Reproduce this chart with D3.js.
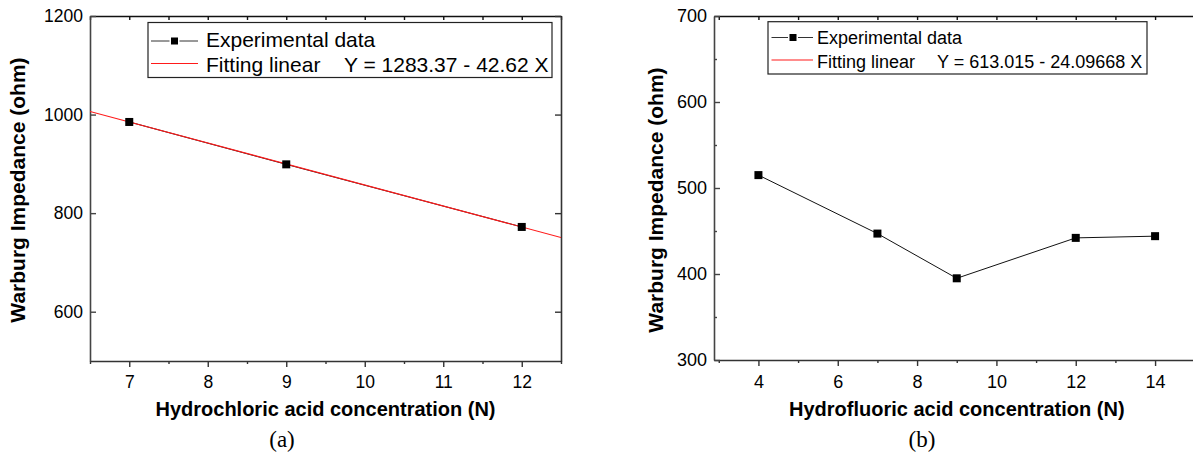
<!DOCTYPE html>
<html>
<head>
<meta charset="utf-8">
<script src="https://cdn.jsdelivr.net/npm/d3@7/dist/d3.min.js"></script>
<style>
  html, body { margin: 0; padding: 0; background: #fff; }
  svg { display: block; }
  text { font-family: "Liberation Sans", Arial, sans-serif; fill: #000; }
</style>
</head>
<body>
<svg id="chart" width="1193" height="461"></svg>
<script>
// ---- Panel (a) data ----
const hclConc = [7, 9, 12];
const hclImpedance = [985, 899, 772];
const hclFitIntercept = 1283.37;
const hclFitSlope = -42.62;
const hclXTicks = [7, 8, 9, 10, 11, 12];
const hclXMinor = [6.5, 7.5, 8.5, 9.5, 10.5, 11.5, 12.5];
const hclYTicks = [600, 800, 1000, 1200];
const hclXDomain = [6.5, 12.5];
const hclYDomain = [500, 1200];

// ---- Panel (b) data ----
const hfConc = [4, 7, 9, 12, 14];
const hfImpedance = [515, 447, 395, 442, 444];
const hfXTicks = [4, 6, 8, 10, 12, 14];
const hfXMinor = [3, 5, 7, 9, 11, 13, 15];
const hfYTicks = [300, 400, 500, 600, 700];
const hfYMinor = [350, 450, 550, 650];
const hfXDomain = [2.88, 15.12];
const hfYDomain = [300, 700];

const svg = d3.select("#chart");
svg.append("rect").attr("width", 1193).attr("height", 461).attr("fill", "#fff");

function styleAxis(g, color, fs) {
  g.selectAll("path.domain").attr("stroke", color).attr("stroke-width", 1.6);
  g.selectAll(".tick line").attr("stroke", color).attr("stroke-width", 1.4);
  g.selectAll(".tick text").attr("font-size", fs || 17.5).attr("font-family", '"Liberation Sans", Arial, sans-serif').attr("fill", "#111");
}

function drawPanel(opt) {
  const { left, right, top, bottom } = opt;
  const x = d3.scaleLinear().domain(opt.xDomain).range([left, right]);
  const y = d3.scaleLinear().domain(opt.yDomain).range([bottom, top]);
  const g = svg.append("g");

  const clipId = "clip-" + opt.id;
  svg.append("clipPath").attr("id", clipId)
    .append("rect").attr("x", left).attr("y", top).attr("width", right - left).attr("height", bottom - top);

  const bx = g.append("g").attr("transform", `translate(0,${bottom})`)
    .call(d3.axisBottom(x).tickValues(opt.xTicks).tickSizeInner(6).tickSizeOuter(0).tickPadding(9).tickFormat(d3.format("d")));
  styleAxis(bx, "#333", opt.tickFs);
  const bxm = g.append("g").attr("transform", `translate(0,${bottom})`)
    .call(d3.axisBottom(x).tickValues(opt.xMinor).tickSizeInner(3).tickSizeOuter(0).tickFormat(""));
  styleAxis(bxm, "#333"); bxm.select("path.domain").remove();

  const tx = g.append("g").attr("transform", `translate(0,${top})`)
    .call(d3.axisTop(x).tickValues(opt.xTicks.concat(opt.xMinor)).tickSizeInner(-4).tickSizeOuter(0).tickFormat(""));
  styleAxis(tx, "#111");

  const ly = g.append("g").attr("transform", `translate(${left},0)`)
    .call(d3.axisLeft(y).tickValues(opt.yTicks).tickSizeInner(-6).tickSizeOuter(0).tickPadding(7).tickFormat(d3.format("d")));
  styleAxis(ly, "#444", opt.tickFs);
  if (opt.yMinor) {
    const lym = g.append("g").attr("transform", `translate(${left},0)`)
      .call(d3.axisLeft(y).tickValues(opt.yMinor).tickSizeInner(-3).tickSizeOuter(0).tickFormat(""));
    styleAxis(lym, "#444"); lym.select("path.domain").remove();
  }
  const ry = g.append("g").attr("transform", `translate(${right},0)`)
    .call(d3.axisRight(y).tickValues(opt.yTicks).tickSizeInner(-6).tickSizeOuter(0).tickFormat(""));
  styleAxis(ry, "#333");

  const pts = opt.xs.map((d, i) => [d, opt.ys[i]]);
  g.append("path")
    .attr("d", d3.line().x(d => x(d[0])).y(d => y(d[1]))(pts))
    .attr("fill", "none").attr("stroke", "#111").attr("stroke-width", 1);
  if (opt.fit) {
    g.append("path")
      .attr("clip-path", `url(#${clipId})`)
      .attr("d", d3.line().x(d => x(d)).y(d => y(opt.fit.a + opt.fit.b * d))(opt.xDomain))
      .attr("fill", "none").attr("stroke", "#ff1a1a").attr("stroke-width", 1.1);
  }
  const s = 8;
  g.selectAll("rect.pt").data(pts).enter().append("rect")
    .attr("x", d => x(d[0]) - s / 2).attr("y", d => y(d[1]) - s / 2)
    .attr("width", s).attr("height", s).attr("fill", "#000");

  g.append("text")
    .attr("x", (left + right) / 2).attr("y", opt.xTitleY)
    .attr("text-anchor", "middle").attr("font-weight", "bold").attr("font-size", 20)
    .text(opt.xTitle);
  g.append("text")
    .attr("transform", `translate(${opt.yTitleX},${opt.yTitleCY}) rotate(-90)`)
    .attr("text-anchor", "middle").attr("font-weight", "bold").attr("font-size", 21)
    .text("Warburg Impedance (ohm)");

  g.append("text")
    .attr("x", opt.tagX).attr("y", 447)
    .attr("text-anchor", "middle").attr("font-size", 23)
    .style("font-family", '"Liberation Serif", "Times New Roman", serif')
    .text(opt.tag);

  const L = opt.legend;
  g.append("rect").attr("x", L.x0).attr("y", L.y0).attr("width", L.x1 - L.x0).attr("height", L.y1 - L.y0)
    .attr("fill", "#fff").attr("stroke", "#222").attr("stroke-width", 1.2);
  g.append("line").attr("x1", L.sx0).attr("x2", L.sq - 5).attr("y1", L.r1y).attr("y2", L.r1y).attr("stroke", "#333").attr("stroke-width", 1);
  g.append("line").attr("x1", L.sq + 5).attr("x2", L.sx1).attr("y1", L.r1y).attr("y2", L.r1y).attr("stroke", "#333").attr("stroke-width", 1);
  g.append("rect").attr("x", L.sq - 3.5).attr("y", L.r1y - 3.5).attr("width", 7).attr("height", 7).attr("fill", "#000");
  g.append("line").attr("x1", L.sx0).attr("x2", L.sx1).attr("y1", L.r2y).attr("y2", L.r2y).attr("stroke", "#ff1a1a").attr("stroke-width", 1.2);
  g.append("text").attr("x", L.tx).attr("y", L.b1).attr("font-size", L.fs).text("Experimental data");
  g.append("text").attr("x", L.tx).attr("y", L.b2).attr("font-size", L.fs).text("Fitting linear");
  g.append("text").attr("x", L.eqx).attr("y", L.b2).attr("font-size", L.fs).text(L.eq);
}

drawPanel({
  id: "a", left: 90, right: 561, top: 16, bottom: 361,
  xDomain: hclXDomain, yDomain: hclYDomain,
  xTicks: hclXTicks, xMinor: hclXMinor, yTicks: hclYTicks, yMinor: null,
  xs: hclConc, ys: hclImpedance, tickFs: 17.5,
  fit: { a: hclFitIntercept, b: hclFitSlope },
  xTitle: "Hydrochloric acid concentration (N)", xTitleY: 416,
  yTitleX: 25, yTitleCY: 190,
  tag: "(a)", tagX: 282,
  legend: { x0: 148, y0: 22.5, x1: 552, y1: 77.5, sx0: 151, sx1: 198, sq: 174.5, r1y: 41, r2y: 63.5,
            tx: 206, b1: 47, b2: 72, fs: 21, eqx: 344, eq: "Y = 1283.37 - 42.62 X" }
});

drawPanel({
  id: "b", left: 714, right: 1199.5, top: 16, bottom: 360,
  xDomain: hfXDomain, yDomain: hfYDomain,
  xTicks: hfXTicks, xMinor: hfXMinor, yTicks: hfYTicks, yMinor: hfYMinor,
  xs: hfConc, ys: hfImpedance, tickFs: 18,
  fit: null,
  xTitle: "Hydrofluoric acid concentration (N)", xTitleY: 416,
  yTitleX: 663, yTitleCY: 200,
  tag: "(b)", tagX: 922,
  legend: { x0: 768, y0: 21.7, x1: 1147, y1: 74, sx0: 771.5, sx1: 813, sq: 793, r1y: 37.5, r2y: 60,
            tx: 817, b1: 43.5, b2: 67.5, fs: 18, eqx: 937, eq: "Y = 613.015 - 24.09668 X" }
});
</script>
</body>
</html>
